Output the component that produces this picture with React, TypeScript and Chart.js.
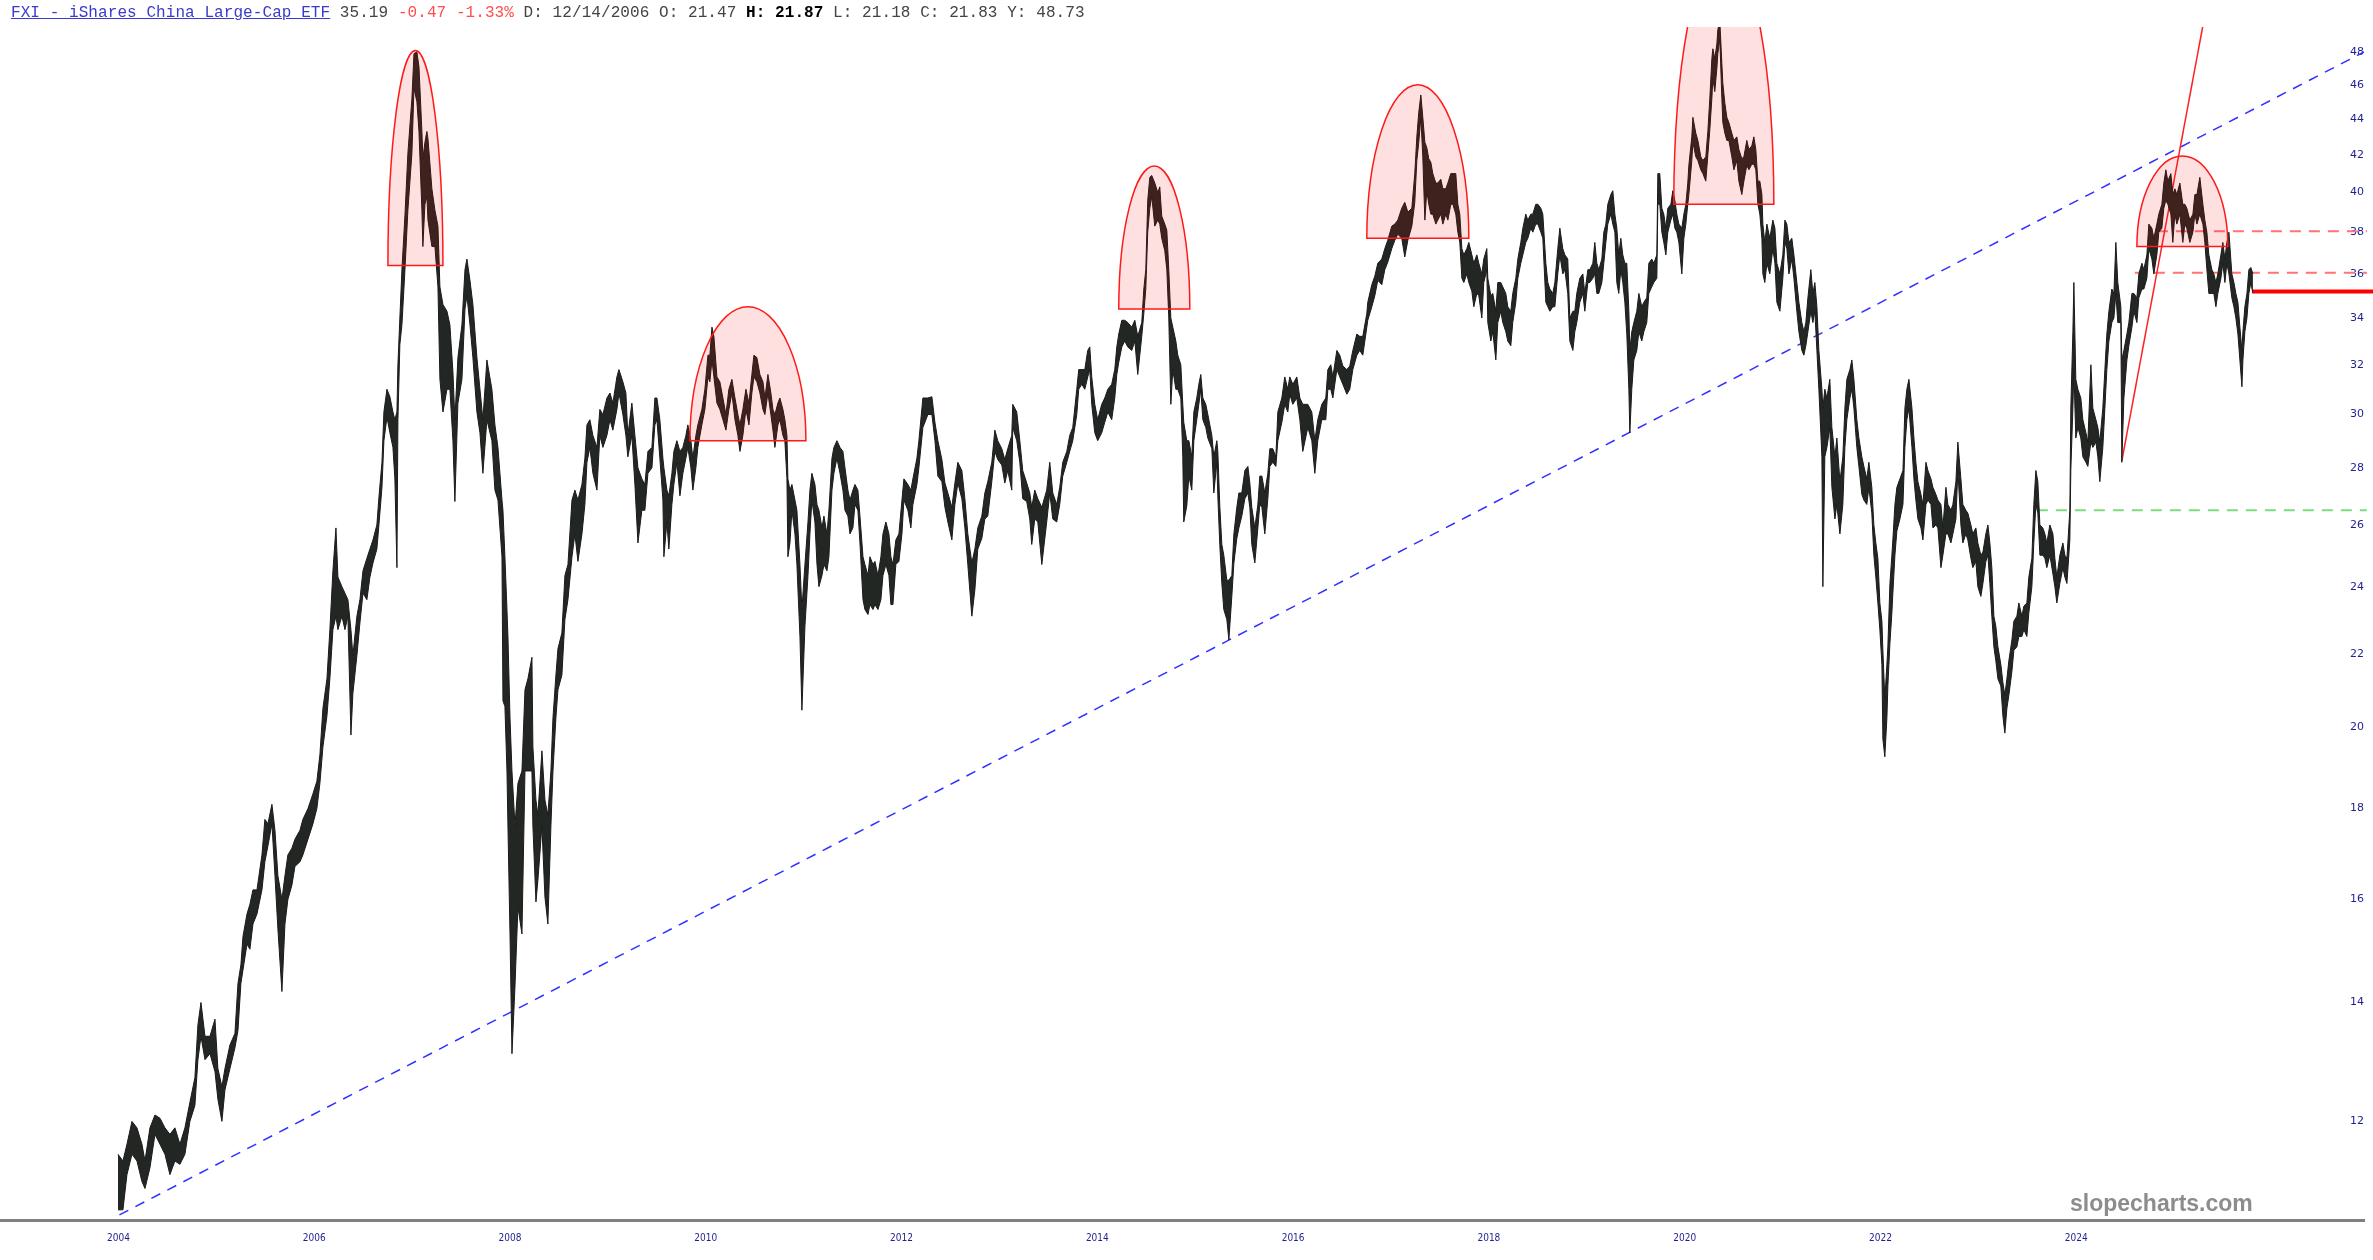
import { useEffect, useRef } from 'react';
import { Chart, registerables } from 'chart.js';

Chart.register(...registerables);

// decimal year of each sampled group of daily bars
const dates = [
  2003.995, 2004.046, 2004.087, 2004.138, 2004.189, 2004.240, 2004.271, 2004.322, 2004.373, 2004.424,
  2004.475, 2004.526, 2004.577, 2004.628, 2004.679, 2004.730, 2004.781, 2004.812, 2004.843, 2004.884,
  2004.935, 2004.986, 2005.016, 2005.057, 2005.088, 2005.139, 2005.190, 2005.221, 2005.251, 2005.272,
  2005.313, 2005.343, 2005.374, 2005.415, 2005.466, 2005.496, 2005.527, 2005.568, 2005.599, 2005.629,
  2005.670, 2005.701, 2005.731, 2005.772, 2005.803, 2005.854, 2005.884, 2005.936, 2005.987, 2006.027,
  2006.058, 2006.089, 2006.130, 2006.160, 2006.191, 2006.222, 2006.242, 2006.283, 2006.314, 2006.344,
  2006.375, 2006.395, 2006.436, 2006.467, 2006.498, 2006.538, 2006.569, 2006.600, 2006.640, 2006.661,
  2006.692, 2006.712, 2006.743, 2006.773, 2006.804, 2006.824, 2006.845, 2006.855, 2006.875, 2006.896,
  2006.927, 2006.957, 2006.998, 2007.019, 2007.049, 2007.070, 2007.100, 2007.110, 2007.131, 2007.151,
  2007.162, 2007.202, 2007.233, 2007.264, 2007.284, 2007.315, 2007.356, 2007.386, 2007.417, 2007.437,
  2007.468, 2007.509, 2007.540, 2007.560, 2007.591, 2007.621, 2007.662, 2007.693, 2007.723, 2007.764,
  2007.815, 2007.846, 2007.877, 2007.918, 2007.928, 2007.948, 2007.969, 2007.979, 2008.000, 2008.020,
  2008.051, 2008.081, 2008.122, 2008.153, 2008.183, 2008.224, 2008.234, 2008.265, 2008.285, 2008.326,
  2008.357, 2008.387, 2008.418, 2008.439, 2008.469, 2008.490, 2008.530, 2008.561, 2008.592, 2008.633,
  2008.663, 2008.694, 2008.735, 2008.765, 2008.786, 2008.816, 2008.847, 2008.888, 2008.918, 2008.949,
  2008.990, 2009.021, 2009.051, 2009.092, 2009.113, 2009.153, 2009.184, 2009.204, 2009.245, 2009.276,
  2009.307, 2009.347, 2009.378, 2009.409, 2009.450, 2009.480, 2009.501, 2009.531, 2009.562, 2009.572,
  2009.603, 2009.623, 2009.654, 2009.674, 2009.705, 2009.736, 2009.766, 2009.797, 2009.817, 2009.848,
  2009.868, 2009.899, 2009.919, 2009.960, 2009.991, 2010.022, 2010.042, 2010.063, 2010.083, 2010.114,
  2010.144, 2010.175, 2010.206, 2010.236, 2010.267, 2010.298, 2010.328, 2010.349, 2010.379, 2010.410,
  2010.441, 2010.471, 2010.492, 2010.522, 2010.553, 2010.584, 2010.604, 2010.635, 2010.665, 2010.686,
  2010.706, 2010.737, 2010.757, 2010.788, 2010.808, 2010.829, 2010.839, 2010.860, 2010.880, 2010.911,
  2010.931, 2010.962, 2010.982, 2011.013, 2011.044, 2011.064, 2011.084, 2011.115, 2011.136, 2011.156,
  2011.187, 2011.207, 2011.238, 2011.258, 2011.289, 2011.309, 2011.340, 2011.371, 2011.401, 2011.422,
  2011.452, 2011.473, 2011.503, 2011.524, 2011.554, 2011.575, 2011.606, 2011.626, 2011.657, 2011.677,
  2011.708, 2011.728, 2011.759, 2011.789, 2011.810, 2011.840, 2011.871, 2011.891, 2011.912, 2011.942,
  2011.973, 2012.004, 2012.024, 2012.065, 2012.095, 2012.116, 2012.157, 2012.177, 2012.218, 2012.269,
  2012.310, 2012.341, 2012.371, 2012.412, 2012.443, 2012.473, 2012.514, 2012.545, 2012.575, 2012.616,
  2012.647, 2012.677, 2012.718, 2012.749, 2012.779, 2012.820, 2012.851, 2012.881, 2012.922, 2012.953,
  2012.983, 2013.024, 2013.055, 2013.085, 2013.126, 2013.136, 2013.177, 2013.208, 2013.238, 2013.279,
  2013.310, 2013.330, 2013.361, 2013.392, 2013.433, 2013.483, 2013.514, 2013.545, 2013.585, 2013.616,
  2013.647, 2013.688, 2013.718, 2013.749, 2013.790, 2013.810, 2013.841, 2013.872, 2013.902, 2013.923,
  2013.943, 2013.974, 2014.004, 2014.045, 2014.076, 2014.107, 2014.147, 2014.178, 2014.199, 2014.219,
  2014.250, 2014.280, 2014.311, 2014.352, 2014.383, 2014.413, 2014.454, 2014.475, 2014.495, 2014.515,
  2014.536, 2014.556, 2014.587, 2014.618, 2014.638, 2014.658, 2014.689, 2014.710, 2014.730, 2014.751,
  2014.771, 2014.802, 2014.822, 2014.853, 2014.873, 2014.883, 2014.914, 2014.935, 2014.965, 2014.986,
  2015.016, 2015.037, 2015.057, 2015.078, 2015.108, 2015.129, 2015.170, 2015.190, 2015.221, 2015.231,
  2015.251, 2015.272, 2015.292, 2015.323, 2015.344, 2015.374, 2015.395, 2015.425, 2015.446, 2015.476,
  2015.507, 2015.538, 2015.558, 2015.578, 2015.609, 2015.640, 2015.660, 2015.681, 2015.711, 2015.742,
  2015.762, 2015.793, 2015.824, 2015.844, 2015.885, 2015.915, 2015.946, 2015.966, 2015.997, 2016.038,
  2016.069, 2016.099, 2016.150, 2016.191, 2016.222, 2016.252, 2016.293, 2016.334, 2016.355, 2016.385,
  2016.406, 2016.447, 2016.477, 2016.508, 2016.549, 2016.579, 2016.610, 2016.651, 2016.681, 2016.712,
  2016.753, 2016.763, 2016.804, 2016.835, 2016.865, 2016.906, 2016.937, 2016.967, 2017.008, 2017.039,
  2017.070, 2017.110, 2017.141, 2017.172, 2017.213, 2017.243, 2017.264, 2017.284, 2017.305, 2017.325,
  2017.346, 2017.366, 2017.386, 2017.407, 2017.427, 2017.458, 2017.478, 2017.509, 2017.530, 2017.560,
  2017.581, 2017.611, 2017.632, 2017.662, 2017.683, 2017.703, 2017.724, 2017.744, 2017.775, 2017.795,
  2017.826, 2017.846, 2017.877, 2017.897, 2017.928, 2017.948, 2017.979, 2017.989, 2018.020, 2018.040,
  2018.071, 2018.091, 2018.122, 2018.142, 2018.173, 2018.193, 2018.224, 2018.244, 2018.275, 2018.296,
  2018.326, 2018.347, 2018.377, 2018.398, 2018.428, 2018.449, 2018.479, 2018.500, 2018.531, 2018.551,
  2018.582, 2018.602, 2018.623, 2018.653, 2018.674, 2018.704, 2018.725, 2018.755, 2018.776, 2018.806,
  2018.827, 2018.858, 2018.878, 2018.898, 2018.929, 2018.960, 2018.980, 2019.011, 2019.031, 2019.062,
  2019.082, 2019.103, 2019.123, 2019.154, 2019.174, 2019.195, 2019.215, 2019.246, 2019.266, 2019.287,
  2019.307, 2019.327, 2019.348, 2019.368, 2019.389, 2019.409, 2019.430, 2019.440, 2019.460, 2019.481,
  2019.511, 2019.532, 2019.562, 2019.583, 2019.613, 2019.634, 2019.664, 2019.685, 2019.716, 2019.726,
  2019.746, 2019.767, 2019.787, 2019.808, 2019.828, 2019.859, 2019.879, 2019.900, 2019.920, 2019.941,
  2019.971, 2019.992, 2020.012, 2020.032, 2020.043, 2020.073, 2020.084, 2020.114, 2020.135, 2020.165,
  2020.186, 2020.216, 2020.237, 2020.257, 2020.278, 2020.288, 2020.308, 2020.329, 2020.339, 2020.359,
  2020.380, 2020.390, 2020.411, 2020.431, 2020.452, 2020.482, 2020.503, 2020.533, 2020.554, 2020.584,
  2020.605, 2020.635, 2020.656, 2020.686, 2020.707, 2020.727, 2020.748, 2020.768, 2020.789, 2020.799,
  2020.819, 2020.840, 2020.870, 2020.901, 2020.922, 2020.942, 2020.973, 2021.003, 2021.024, 2021.044,
  2021.065, 2021.095, 2021.116, 2021.146, 2021.167, 2021.197, 2021.218, 2021.238, 2021.259, 2021.289,
  2021.310, 2021.330, 2021.351, 2021.371, 2021.402, 2021.412, 2021.432, 2021.453, 2021.483, 2021.504,
  2021.535, 2021.555, 2021.586, 2021.616, 2021.637, 2021.657, 2021.688, 2021.708, 2021.729, 2021.759,
  2021.780, 2021.810, 2021.831, 2021.861, 2021.882, 2021.912, 2021.933, 2021.953, 2021.974, 2021.994,
  2022.015, 2022.025, 2022.045, 2022.066, 2022.076, 2022.097, 2022.117, 2022.127, 2022.148, 2022.168,
  2022.199, 2022.230, 2022.250, 2022.270, 2022.291, 2022.322, 2022.342, 2022.362, 2022.383, 2022.414,
  2022.434, 2022.465, 2022.485, 2022.516, 2022.536, 2022.567, 2022.587, 2022.618, 2022.638, 2022.669,
  2022.689, 2022.720, 2022.740, 2022.771, 2022.791, 2022.822, 2022.842, 2022.873, 2022.893, 2022.924,
  2022.944, 2022.975, 2022.995, 2023.026, 2023.047, 2023.077, 2023.098, 2023.118, 2023.138, 2023.159,
  2023.179, 2023.200, 2023.230, 2023.251, 2023.271, 2023.292, 2023.312, 2023.343, 2023.363, 2023.394,
  2023.414, 2023.445, 2023.465, 2023.496, 2023.516, 2023.547, 2023.567, 2023.588, 2023.608, 2023.629,
  2023.659, 2023.680, 2023.700, 2023.731, 2023.762, 2023.782, 2023.802, 2023.833, 2023.864, 2023.884,
  2023.905, 2023.935, 2023.945, 2023.966, 2023.976, 2023.996, 2024.017, 2024.047, 2024.068, 2024.099,
  2024.119, 2024.150, 2024.170, 2024.201, 2024.221, 2024.241, 2024.272, 2024.293, 2024.313, 2024.334,
  2024.364, 2024.385, 2024.405, 2024.425, 2024.456, 2024.466, 2024.487, 2024.518, 2024.538, 2024.569,
  2024.589, 2024.620, 2024.640, 2024.671, 2024.691, 2024.722, 2024.742, 2024.773, 2024.793, 2024.824,
  2024.844, 2024.875, 2024.895, 2024.916, 2024.936, 2024.967, 2024.987, 2025.008, 2025.028, 2025.059,
  2025.089, 2025.110, 2025.130, 2025.161, 2025.192, 2025.212, 2025.233, 2025.263, 2025.294, 2025.314,
  2025.335, 2025.355, 2025.386, 2025.406, 2025.427, 2025.447, 2025.478, 2025.498, 2025.519, 2025.539,
  2025.560, 2025.590, 2025.611, 2025.631, 2025.652, 2025.672, 2025.693, 2025.703, 2025.723, 2025.744,
  2025.764, 2025.784, 2025.805,
];

// highest price in each group
const highs = [
  11.5, 11.4, 11.65, 12.0, 11.9, 11.65, 11.4, 11.9, 12.1, 12.05,
  11.9, 11.8, 11.9, 11.65, 11.9, 12.3, 12.7, 13.6, 14.0, 13.4,
  13.4, 13.7, 12.85, 12.55, 12.85, 13.25, 13.45, 14.35, 14.7, 15.25,
  15.7, 15.9, 16.2, 16.2, 16.95, 17.75, 17.65, 18.1, 17.5, 16.5,
  16.0, 16.5, 16.95, 17.1, 17.3, 17.5, 17.75, 18.0, 18.35, 18.65,
  19.3, 20.5, 21.3, 22.7, 24.5, 25.9, 24.3, 24.0, 23.8, 23.6,
  22.7, 21.95, 23.1, 23.6, 24.5, 24.9, 25.2, 25.5, 26.0, 26.95,
  28.2, 30.1, 31.0, 30.7, 30.1, 29.8, 30.1, 32.0, 34.0, 36.2,
  38.85, 42.1, 45.2, 47.9, 48.0, 47.1, 43.3, 41.8, 42.7, 43.3,
  42.9, 40.2, 39.1, 38.3, 35.4, 34.6, 34.3, 33.7, 31.7, 29.8,
  32.3, 33.7, 36.2, 36.7, 35.7, 34.6, 32.3, 31.0, 29.8, 32.2,
  31.0, 29.6, 28.75, 26.85, 26.5, 24.95, 23.3, 22.5, 20.25, 18.9,
  17.6, 18.6, 18.9, 21.0, 21.3, 21.9, 19.5, 18.2, 17.85, 19.4,
  18.2, 17.85, 18.9, 20.25, 21.4, 22.15, 22.6, 24.35, 24.7, 26.85,
  27.2, 26.85, 27.4, 28.35, 29.6, 29.8, 29.2, 28.75, 30.2, 30.0,
  30.65, 30.85, 30.45, 31.5, 31.8, 31.3, 30.85, 29.2, 30.45, 29.2,
  28.0, 27.6, 27.4, 28.6, 28.75, 30.65, 30.65, 29.8, 28.35, 28.0,
  27.2, 27.0, 27.8, 28.6, 29.0, 28.6, 28.75, 29.2, 29.6, 29.0,
  28.35, 29.2, 29.6, 30.2, 31.0, 32.4, 32.4, 33.6, 33.2, 31.5,
  31.3, 30.65, 30.0, 31.0, 31.4, 30.65, 30.0, 29.6, 30.2, 31.0,
  30.45, 31.6, 32.4, 32.3, 31.6, 31.3, 30.65, 31.6, 30.85, 30.2,
  30.0, 30.45, 30.65, 30.2, 29.8, 29.2, 27.6, 27.2, 27.4, 26.85,
  26.5, 24.7, 23.3, 24.7, 26.1, 27.2, 27.8, 27.4, 26.7, 26.5,
  25.9, 26.3, 25.7, 26.5, 28.35, 28.75, 29.0, 28.75, 28.6, 28.0,
  27.2, 26.85, 27.2, 27.4, 27.2, 26.3, 24.95, 24.7, 24.35, 24.95,
  24.7, 24.8, 24.35, 24.95, 25.7, 26.1, 25.7, 24.95, 24.7, 25.5,
  25.7, 26.85, 27.6, 27.4, 27.2, 27.6, 28.35, 29.0, 30.65, 30.65,
  30.7, 29.7, 29.0, 28.3, 27.45, 27.1, 26.6, 27.45, 28.2, 27.9,
  26.9, 25.7, 24.75, 25.2, 25.9, 26.3, 27.1, 27.5, 28.2, 29.4,
  29.0, 28.7, 28.3, 28.7, 29.2, 30.4, 30.1, 29.0, 27.9, 27.45,
  27.1, 26.6, 27.2, 26.9, 26.6, 27.2, 28.2, 27.1, 26.7, 27.3,
  28.2, 28.6, 29.2, 29.5, 31.0, 31.8, 31.8, 31.8, 32.6, 32.75,
  31.5, 30.4, 29.8, 30.4, 30.65, 31.0, 31.2, 31.8, 32.75, 33.3,
  33.9, 33.9, 33.8, 33.6, 33.9, 33.2, 33.8, 35.3, 36.2, 39.6,
  40.8, 40.9, 40.5, 40.0, 40.3, 38.8, 38.4, 38.1, 36.2, 34.0,
  33.6, 33.0, 32.4, 32.0, 30.4, 29.7, 29.0, 29.0, 28.4, 30.1,
  30.65, 31.2, 31.6, 30.65, 30.4, 30.0, 29.2, 28.4, 29.0, 28.6,
  26.65, 25.35, 25.0, 24.2, 24.2, 24.35, 25.7, 26.6, 27.1, 27.1,
  27.9, 28.05, 27.45, 26.6, 25.9, 26.7, 27.7, 27.7, 27.1, 27.8,
  28.7, 28.7, 28.4, 30.1, 30.65, 31.5, 31.0, 31.5, 31.2, 31.5,
  30.65, 30.4, 30.4, 30.1, 29.0, 29.8, 30.4, 30.65, 31.8, 32.0,
  31.5, 32.6, 32.4, 31.95, 31.8, 31.95, 32.6, 33.3, 33.2, 33.2,
  34.2, 34.7, 35.5, 35.9, 36.5, 36.7, 37.2, 37.6, 38.3, 38.4,
  38.6, 39.2, 39.5, 39.0, 39.2, 41.0, 43.0, 44.4, 45.4, 44.1,
  42.7, 42.4, 41.8, 41.6, 41.0, 40.5, 40.5, 40.7, 40.2, 40.2,
  40.5, 41.0, 41.0, 41.0, 39.4, 38.9, 37.2, 36.9, 37.2, 37.5,
  36.9, 36.5, 36.9, 36.5, 36.0, 36.7, 37.2, 35.8, 35.0, 35.1,
  34.3, 35.6, 35.6, 35.4, 35.1, 34.5, 34.3, 35.1, 35.8, 36.7,
  37.5, 38.2, 38.9, 38.6, 38.9, 38.9, 39.4, 39.4, 39.2, 38.9,
  36.5, 35.6, 35.3, 35.1, 35.6, 37.2, 38.2, 37.2, 36.9, 36.7,
  34.0, 34.3, 34.3, 35.1, 35.8, 36.0, 35.1, 36.2, 36.2, 36.5,
  37.5, 36.5, 36.2, 36.7, 38.0, 38.4, 39.4, 39.9, 40.1, 38.9,
  38.2, 36.9, 37.7, 36.9, 36.5, 36.5, 34.3, 32.6, 33.4, 33.8,
  34.3, 35.1, 34.5, 34.7, 34.9, 36.5, 36.7, 36.5, 36.9, 41.0,
  41.0, 39.2, 38.9, 38.2, 39.2, 39.4, 40.1, 39.6, 38.9, 38.4,
  38.2, 38.9, 39.4, 40.5, 41.45, 43.0, 44.1, 43.2, 42.8, 41.9,
  41.7, 41.9, 43.3, 45.2, 47.6, 48.2, 47.6, 48.5, 49.4, 50.0,
  47.3, 46.1, 44.9, 44.1, 43.8, 43.2, 42.8, 43.0, 42.3, 41.8,
  41.9, 42.8, 42.3, 42.5, 43.0, 42.3, 40.6, 40.6, 39.9, 38.4,
  37.5, 38.4, 37.7, 38.6, 38.2, 36.5, 36.0, 36.9, 38.6, 38.4,
  37.5, 37.7, 36.9, 35.6, 34.7, 33.8, 33.4, 33.8, 34.9, 36.2,
  35.1, 35.6, 34.5, 32.6, 31.0, 30.25, 31.0, 30.65, 31.4, 29.5,
  28.4, 29.1, 27.5, 28.4, 30.25, 31.4, 31.8, 32.2, 31.4, 29.8,
  29.1, 28.4, 28.05, 27.6, 28.2, 27.3, 26.0, 25.4, 24.9, 23.5,
  22.95, 22.1, 20.75, 21.7, 22.2, 24.1, 25.0, 25.5, 26.7, 27.3,
  27.6, 27.9, 30.25, 31.0, 31.4, 30.25, 29.1, 28.2, 27.5, 27.05,
  26.7, 28.2, 27.9, 27.6, 27.3, 27.05, 26.85, 26.7, 25.9, 27.3,
  26.7, 26.5, 26.7, 27.5, 28.95, 27.6, 26.7, 26.5, 26.4, 26.0,
  25.7, 25.9, 25.4, 25.0, 25.1, 25.7, 26.0, 25.4, 24.6, 23.1,
  22.8, 22.2, 21.7, 21.2, 20.85, 21.3, 21.8, 22.4, 22.95, 23.1,
  23.5, 23.1, 23.4, 23.5, 24.3, 24.9, 26.7, 27.9, 27.5, 26.0,
  25.9, 25.7, 25.4, 26.0, 25.7, 24.9, 24.3, 25.0, 25.4, 25.0,
  24.9, 26.5, 30.25, 33.4, 35.6, 31.4, 31.0, 30.65, 29.8, 29.3,
  28.95, 32.0, 30.25, 29.8, 29.5, 28.95, 30.25, 31.8, 33.3, 34.3,
  35.3, 35.1, 37.5, 35.6, 34.5, 32.2, 32.6, 33.3, 33.8, 35.1,
  35.1, 34.9, 36.0, 36.5, 36.2, 36.9, 38.4, 38.2, 37.7, 38.4,
  38.9, 39.4, 40.5, 41.2, 40.6, 41.0, 39.9, 40.2, 39.9, 40.5,
  39.4, 39.4, 39.2, 38.6, 38.9, 39.9, 39.9, 40.8, 39.4, 38.6,
  38.0, 36.9, 36.2, 36.0, 35.6, 36.0, 36.9, 37.5, 36.7, 37.5,
  38.0, 36.0, 35.6, 35.1, 34.7, 33.6, 32.6, 33.4, 34.5, 35.1,
  36.2, 36.3, 36.0,
];

// lowest price in each group
const lows = [
  10.7, 10.7, 11.2, 11.5, 11.4, 11.1, 11.0, 11.3, 11.8, 11.65,
  11.5, 11.2, 11.4, 11.35, 11.5, 12.0, 12.25, 13.0, 13.4, 13.0,
  13.1, 12.8, 12.35, 12.0, 12.5, 12.85, 13.2, 13.5, 14.35, 14.6,
  15.1, 15.0, 15.5, 15.7, 16.2, 16.8, 17.15, 17.65, 16.5, 15.4,
  14.2, 15.5, 16.0, 16.3, 16.7, 16.8, 16.95, 17.3, 17.65, 18.0,
  18.6, 19.5, 20.3, 21.3, 22.7, 23.1, 22.7, 23.1, 22.7, 23.1,
  19.8, 20.9, 21.95, 22.9, 23.8, 23.6, 24.3, 24.75, 25.2, 26.0,
  27.3, 29.0, 29.9, 29.3, 28.75, 27.6, 24.6, 29.8, 32.85, 33.7,
  36.2, 39.1, 42.1, 45.8, 45.0, 43.3, 39.1, 37.3, 39.4, 39.8,
  38.6, 37.3, 37.3, 35.4, 31.4, 30.1, 31.0, 31.0, 29.0, 26.8,
  30.45, 31.4, 34.4, 35.0, 33.7, 32.3, 30.1, 29.3, 27.8, 29.8,
  29.0, 27.2, 26.85, 24.95, 20.7, 20.55, 18.9, 17.6, 15.3, 13.1,
  14.3, 15.85, 15.3, 18.9, 18.9, 18.9, 17.6, 15.95, 16.4, 17.6,
  16.05, 15.5, 17.6, 18.9, 20.25, 21.0, 21.4, 23.0, 23.6, 24.95,
  25.7, 24.8, 25.7, 26.7, 28.2, 28.75, 27.8, 27.2, 29.2, 28.75,
  29.2, 29.8, 29.4, 30.2, 30.85, 30.0, 29.2, 28.4, 29.2, 27.4,
  25.4, 26.5, 26.5, 27.8, 28.0, 29.6, 29.8, 28.35, 26.85, 24.95,
  26.1, 25.2, 26.7, 27.4, 28.2, 27.0, 27.8, 28.35, 28.75, 28.0,
  27.2, 28.0, 28.75, 29.6, 30.2, 31.5, 31.3, 32.2, 31.5, 30.45,
  30.2, 29.8, 29.4, 30.2, 30.85, 29.8, 29.2, 28.6, 29.2, 30.2,
  29.6, 30.85, 31.5, 31.3, 30.85, 30.2, 30.0, 30.85, 30.0, 29.4,
  28.75, 29.6, 29.8, 29.2, 29.0, 27.6, 24.95, 25.4, 26.5, 25.7,
  24.7, 22.5, 20.45, 22.8, 24.35, 25.7, 26.85, 26.1, 24.7, 24.0,
  24.35, 24.7, 24.5, 24.95, 27.2, 27.8, 28.35, 27.8, 27.2, 26.5,
  26.3, 25.7, 25.9, 26.7, 26.5, 25.4, 23.6, 23.3, 23.15, 23.45,
  23.3, 23.45, 23.3, 23.6, 24.35, 24.7, 24.35, 23.45, 23.45, 24.7,
  24.8, 25.7, 26.85, 26.5, 25.9, 26.7, 27.4, 28.0, 29.5, 30.0,
  30.0, 29.0, 27.7, 27.5, 26.6, 26.1, 25.5, 26.7, 27.45, 26.9,
  25.9, 24.7, 23.1, 23.9, 25.2, 25.55, 26.2, 26.3, 27.5, 28.6,
  28.3, 28.1, 27.45, 27.9, 27.2, 29.5, 29.0, 28.2, 26.9, 26.8,
  26.2, 25.35, 26.2, 26.1, 24.7, 26.1, 27.1, 26.2, 26.1, 26.7,
  27.7, 28.2, 28.6, 29.0, 30.0, 31.0, 31.2, 31.0, 31.5, 31.8,
  30.4, 29.3, 29.0, 29.3, 29.7, 30.1, 29.8, 30.65, 31.6, 32.1,
  32.75, 33.0, 32.75, 32.6, 33.0, 31.6, 33.2, 34.2, 35.3, 38.0,
  39.2, 39.8, 38.3, 38.6, 38.4, 37.7, 37.1, 36.2, 34.0, 30.4,
  31.8, 31.0, 31.0, 30.65, 28.4, 26.1, 26.65, 27.7, 27.2, 29.0,
  29.8, 30.4, 31.0, 29.8, 29.5, 29.1, 28.7, 27.1, 28.2, 27.0,
  25.35, 24.1, 23.3, 23.0, 22.4, 23.7, 24.75, 25.55, 25.9, 26.3,
  26.9, 27.1, 26.6, 25.35, 24.75, 25.9, 26.7, 26.6, 25.7, 26.9,
  28.05, 28.2, 28.05, 29.0, 29.7, 30.4, 30.1, 30.8, 30.4, 30.65,
  29.8, 28.6, 29.5, 29.0, 27.8, 29.0, 29.8, 29.8, 31.0, 31.0,
  30.65, 31.8, 31.5, 31.2, 30.8, 31.0, 31.8, 32.4, 32.6, 32.4,
  33.6, 33.9, 34.5, 35.0, 35.7, 35.5, 36.2, 36.55, 37.2, 37.6,
  37.9, 37.7, 36.8, 37.6, 38.3, 39.5, 41.7, 42.7, 44.1, 41.9,
  38.6, 40.1, 39.4, 38.9, 38.9, 38.4, 38.6, 38.9, 38.4, 38.9,
  38.6, 39.4, 39.4, 38.9, 38.0, 37.5, 35.8, 35.6, 36.0, 35.6,
  35.2, 34.5, 35.1, 35.0, 34.0, 35.6, 36.2, 33.8, 33.0, 33.4,
  32.2, 33.8, 34.3, 33.8, 33.4, 33.0, 32.8, 33.8, 34.7, 35.8,
  36.5, 36.9, 37.5, 37.7, 38.2, 38.0, 38.4, 38.4, 38.0, 37.7,
  34.7, 34.5, 34.3, 34.5, 34.5, 36.0, 36.9, 36.0, 36.2, 35.1,
  33.0, 32.6, 33.4, 33.8, 34.7, 35.1, 34.3, 35.6, 35.6, 35.8,
  36.0, 35.1, 35.1, 35.6, 36.5, 37.5, 38.4, 38.9, 38.4, 38.0,
  35.6, 35.1, 36.2, 35.6, 34.7, 33.3, 31.0, 29.3, 31.0, 32.2,
  32.6, 33.4, 33.0, 33.4, 33.8, 35.1, 35.4, 35.6, 35.8, 39.4,
  39.4, 38.0, 37.5, 36.9, 38.0, 38.6, 38.9, 38.2, 38.0, 37.5,
  36.0, 37.7, 38.4, 39.4, 39.9, 41.7, 42.7, 41.9, 41.7, 41.2,
  41.0, 40.6, 42.0, 43.4, 45.2, 46.4, 45.6, 47.0, 47.9, 48.8,
  45.2, 43.8, 43.2, 42.8, 42.8, 41.9, 41.2, 41.7, 40.6, 39.9,
  40.6, 41.45, 41.2, 41.5, 41.5, 41.2, 39.4, 38.9, 37.7, 36.0,
  35.6, 36.5, 36.0, 37.2, 36.5, 34.7, 34.3, 35.8, 37.5, 37.2,
  36.0, 36.7, 35.8, 34.3, 33.4, 32.6, 32.4, 32.8, 33.4, 34.3,
  33.8, 34.3, 32.6, 31.0, 28.4, 24.0, 28.4, 28.75, 29.5, 27.3,
  26.2, 26.7, 25.7, 26.7, 28.75, 29.8, 30.65, 31.0, 30.25, 28.75,
  28.05, 27.05, 26.85, 26.7, 27.3, 26.4, 25.0, 24.3, 23.5, 22.7,
  21.7, 19.7, 19.25, 20.25, 21.1, 22.3, 23.2, 23.8, 25.0, 25.8,
  26.2, 26.7, 28.75, 29.8, 30.25, 28.75, 27.6, 26.85, 26.2, 25.9,
  25.5, 26.7, 26.85, 26.7, 25.9, 26.0, 25.9, 24.6, 25.0, 25.7,
  25.7, 25.4, 25.7, 26.2, 27.9, 26.0, 25.4, 25.7, 25.5, 24.9,
  24.6, 24.8, 24.0, 23.7, 24.1, 24.8, 25.0, 24.1, 23.1, 22.2,
  21.8, 21.3, 21.1, 20.3, 19.85, 20.5, 20.85, 21.5, 22.1, 22.2,
  22.5, 22.5, 22.7, 22.5, 23.2, 24.0, 25.4, 26.7, 26.4, 25.0,
  25.0, 24.9, 24.6, 25.0, 24.4, 24.0, 23.5, 24.1, 24.6, 24.3,
  24.1, 25.5, 27.9, 30.25, 31.8, 29.1, 29.5, 29.1, 28.4, 28.2,
  28.05, 28.95, 28.75, 28.95, 28.4, 27.5, 28.75, 30.25, 31.8, 33.0,
  33.8, 34.0, 35.1, 33.8, 33.8, 28.2, 30.65, 32.2, 32.8, 33.6,
  34.3, 33.8, 34.9, 35.3, 35.3, 35.8, 37.2, 36.7, 36.0, 36.9,
  38.0, 38.2, 39.2, 39.6, 39.4, 38.9, 37.5, 38.9, 38.4, 38.9,
  37.5, 38.4, 38.2, 37.5, 38.0, 38.9, 38.4, 38.9, 38.4, 37.5,
  36.2, 35.1, 35.1, 35.1, 34.5, 35.1, 35.8, 36.5, 35.6, 36.5,
  36.0, 34.9, 34.5, 34.0, 33.3, 32.2, 31.1, 32.2, 33.4, 34.0,
  35.1, 35.6, 35.1,
];

const xTicks = [2004, 2006, 2008, 2010, 2012, 2014, 2016, 2018, 2020, 2022, 2024];
const yTicks = [12, 14, 16, 18, 20, 22, 24, 26, 28, 30, 32, 34, 36, 38, 40, 42, 44, 46, 48];

// long rising support line (blue dashed)
const trendDates = [2004.01, 2026.94];
const trendValues = [10.63, 48.0];

// steep 2024-25 line (red)
const steepDates = [2024.466, 2025.304];
const steepValues = [28.25, 50.0];

// horizontal levels: upper pink, lower pink, green, last price
const levelValues = [38.05, 36.05, 26.5, 35.19];
const levelStarts = [2024.824, 2024.599, 2023.598, 2025.805];
const levelEnds = [2026.97, 2026.97, 2026.97, 2027.05];

// topping arches
const archStarts = [2006.753, 2009.838, 2014.219, 2016.753, 2019.889, 2024.62];
const archEnds = [2007.315, 2011.023, 2014.945, 2017.795, 2020.911, 2025.549];
const archBases = [36.4, 29.0, 34.4, 37.7, 39.4, 37.3];
const archTops = [48.1, 34.5, 41.4, 46.0, 55.0, 41.95];

const xMin = 2002.79;
const xMax = 2026.94;
const yMin = 10.56;
const yMax = 49.58;

const axisColor = '#1f1f8f';

const archPlugin = {
  id: 'arches',
  afterDatasetsDraw(chart: any) {
    const { ctx, chartArea, scales } = chart;
    const x = scales.x;
    const y = scales.y;
    ctx.save();
    ctx.beginPath();
    ctx.rect(chartArea.left, chartArea.top, chartArea.right - chartArea.left, chartArea.bottom - chartArea.top);
    ctx.clip();
    archStarts.forEach((start, i) => {
      const x0 = x.getPixelForValue(start);
      const x1 = x.getPixelForValue(archEnds[i]);
      const base = y.getPixelForValue(archBases[i]);
      const top = y.getPixelForValue(archTops[i]);
      const rx = (x1 - x0) / 2;
      ctx.beginPath();
      ctx.ellipse(x0 + rx, base, rx, base - top, 0, Math.PI, Math.PI * 2);
      ctx.closePath();
      ctx.fillStyle = 'rgba(255, 0, 0, 0.12)';
      ctx.fill();
      ctx.strokeStyle = '#ff1a1a';
      ctx.lineWidth = 1.5;
      ctx.stroke();
    });
    ctx.restore();
  },
};

const levelStyles = [
  { color: '#ff7373', dash: [11, 8], width: 2 },
  { color: '#ff7373', dash: [11, 8], width: 2 },
  { color: '#7ddc7d', dash: [11, 8], width: 2 },
  { color: '#ff0000', dash: [], width: 4 },
];

const App = () => {
  const canvasRef = useRef<HTMLCanvasElement | null>(null);
  const chartRef = useRef<Chart | null>(null);

  useEffect(() => {
    if (!canvasRef.current) return;
    const ctx = canvasRef.current.getContext('2d');
    if (!ctx) return;
    if (chartRef.current) chartRef.current.destroy();

    const line = (xs: number[], ys: number[]) => xs.map((v, i) => ({ x: v, y: ys[i] }));

    const levelSets = levelValues.map((value, i) => ({
      data: [
        { x: levelStarts[i], y: value },
        { x: levelEnds[i], y: value },
      ],
      borderColor: levelStyles[i].color,
      borderWidth: levelStyles[i].width,
      borderDash: levelStyles[i].dash,
      pointRadius: 0,
      fill: false,
      clip: { left: 0, top: 0, right: 12, bottom: 0 },
    }));

    chartRef.current = new Chart(ctx, {
      type: 'line',
      data: {
        datasets: [
          {
            data: line(dates, highs),
            borderColor: '#1a1a1a',
            borderWidth: 1,
            pointRadius: 0,
            tension: 0,
            fill: false,
          },
          {
            data: line(dates, lows),
            borderColor: '#1a1a1a',
            backgroundColor: '#232723',
            borderWidth: 1,
            pointRadius: 0,
            tension: 0,
            fill: '-1',
          },
          {
            data: line(trendDates, trendValues),
            borderColor: '#3030ff',
            borderWidth: 1.5,
            borderDash: [10, 8],
            pointRadius: 0,
            fill: false,
          },
          {
            data: line(steepDates, steepValues),
            borderColor: '#ff2020',
            borderWidth: 1.5,
            pointRadius: 0,
            fill: false,
          },
          ...levelSets,
        ] as any,
      },
      options: {
        responsive: false,
        animation: false,
        events: [],
        layout: { padding: { top: 27, right: 9, bottom: 4, left: 0 } },
        plugins: {
          legend: { display: false },
          tooltip: { enabled: false },
          title: { display: false },
        },
        scales: {
          x: {
            type: 'linear',
            min: xMin,
            max: xMax,
            afterBuildTicks: (scale: any) => {
              scale.ticks = xTicks.map((value) => ({ value }));
            },
            grid: { display: false, drawTicks: false },
            border: { display: true, color: '#808080', width: 3 },
            ticks: {
              padding: 12,
              color: axisColor,
              autoSkip: false,
              maxRotation: 0,
              font: { family: "'DejaVu Sans Condensed', 'Liberation Sans Narrow', sans-serif", size: 10 },
              callback: (value: any) => String(value),
            },
          },
          y: {
            type: 'logarithmic',
            position: 'right',
            min: yMin,
            max: yMax,
            afterBuildTicks: (scale: any) => {
              scale.ticks = yTicks.map((value) => ({ value }));
            },
            grid: { display: false, drawTicks: false },
            border: { display: false },
            ticks: {
              mirror: true,
              padding: 0,
              autoSkip: false,
              color: axisColor,
              font: { family: "'DejaVu Sans', sans-serif", size: 11 },
              callback: (value: any) => String(value),
            },
          },
        },
      } as any,
      plugins: [archPlugin],
    });

    return () => {
      if (chartRef.current) {
        chartRef.current.destroy();
        chartRef.current = null;
      }
    };
  }, []);

  return (
    <div style={{ position: 'fixed', left: 0, top: 0, width: 2373, height: 1260, background: '#ffffff', overflow: 'hidden' }}>
      <canvas ref={canvasRef} width={2373} height={1260} style={{ position: 'absolute', left: 0, top: 0, width: 2373, height: 1260 }} />
      <div
        style={{
          position: 'absolute',
          left: 11,
          top: 4,
          fontFamily: "'Liberation Mono', 'DejaVu Sans Mono', monospace",
          fontSize: 16,
          letterSpacing: '0.07px',
          lineHeight: '18px',
          whiteSpace: 'pre',
          color: '#444444',
        }}
      >
        <span style={{ color: '#3a3acc', textDecoration: 'underline' }}>FXI - iShares China Large-Cap ETF</span>
        {' 35.19 '}
        <span style={{ color: '#ff4d4d' }}>-0.47 -1.33%</span>
        {' D: 12/14/2006 O: 21.47 '}
        <span style={{ color: '#000000', fontWeight: 'bold' }}>H: 21.87</span>
        {' L: 21.18 C: 21.83 Y: 48.73'}
      </div>
      <div
        style={{
          position: 'absolute',
          left: 2070,
          top: 1192,
          fontFamily: "'Liberation Sans', Arial, sans-serif",
          fontWeight: 'bold',
          fontSize: 23,
          lineHeight: '23px',
          color: '#8c8c8c',
        }}
      >
        slopecharts.com
      </div>
    </div>
  );
};

export default App;
